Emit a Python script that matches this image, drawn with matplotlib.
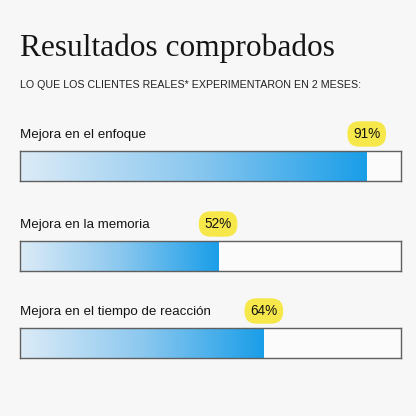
import numpy as np
import matplotlib.pyplot as plt
from matplotlib.colors import LinearSegmentedColormap

labels = ['Mejora en el enfoque', 'Mejora en la memoria', 'Mejora en el tiempo de reacción']
values = [91, 52, 64]
title = 'Resultados comprobados'
subtitle = 'LO QUE LOS CLIENTES REALES* EXPERIMENTARON EN 2 MESES:'

BG = '#f7f7f7'
cmap = LinearSegmentedColormap.from_list('grad', ['#dcebf7', '#8cc8ef', '#1a9ee8'])

fig = plt.figure(figsize=(4.16, 4.16), dpi=100, facecolor=BG)
W = H = 416.0

fig.text(20 / W, 1 - 56 / H, title, fontsize=22.6, family='Liberation Serif',
         color='#151515', va='baseline', ha='left')
fig.text(20 / W, 1 - 88 / H, subtitle, fontsize=7.7, family='Liberation Sans',
         color='#222222', va='baseline', ha='left')

bar_tops = [151, 241, 328]
bar_h = 30
grad = np.linspace(0, 1, 256).reshape(1, -1)

for lab, v, top in zip(labels, values, bar_tops):
    ax = fig.add_axes([20 / W, 1 - (top + bar_h) / H, 381 / W, bar_h / H])
    ax.set_facecolor('#fbfbfb')
    ax.imshow(grad, cmap=cmap, extent=(0, v, 0, 1), aspect='auto', interpolation='bilinear')
    ax.set_xlim(0, 100)
    ax.set_ylim(0, 1)
    ax.set_xticks([])
    ax.set_yticks([])
    for s in ax.spines.values():
        s.set_color('#5f5f5f')
        s.set_linewidth(1.0)
    ax.text(0, 1 + 16 / bar_h, lab, fontsize=9.6, family='Liberation Sans',
            color='#151515', va='center', ha='left', clip_on=False)
    ax.text(v, 1 + 17 / bar_h, f'{v}%', fontsize=9.8, family='Liberation Sans',
            color='#151515', va='center', ha='center', clip_on=False,
            bbox=dict(boxstyle='round,pad=0.42,rounding_size=0.9', fc='#f6e84a', ec='none'))

fig.savefig('out.png', dpi=100, facecolor=BG)
